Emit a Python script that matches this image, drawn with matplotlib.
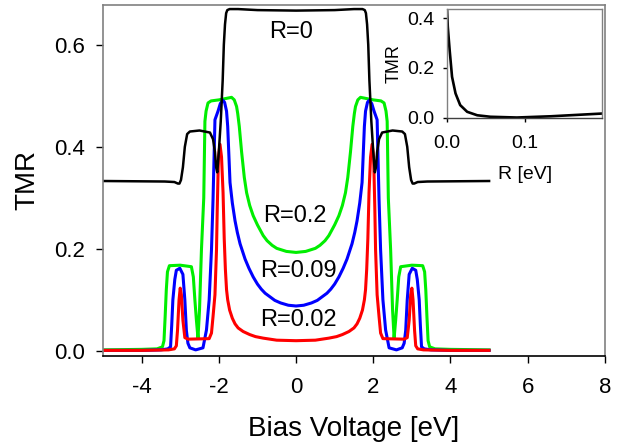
import numpy as np
import matplotlib
matplotlib.use("Agg")
import matplotlib.pyplot as plt

plt.rcParams['font.family'] = ['Liberation Sans', 'DejaVu Sans']
plt.rcParams['axes.unicode_minus'] = False

# curves are symmetric in bias, values read for V >= 0
v_r0 = [0.0, 1.0, 1.5, 1.72, 1.78, 1.81, 1.84, 1.87, 1.9, 1.95, 2.0, 2.04, 2.07, 2.1, 2.15, 2.23,
        2.5, 2.75, 2.82, 2.88, 2.93, 2.98, 3.02, 3.06, 3.15, 3.4, 5.0]
tmr_r0 = [0.667, 0.668, 0.670, 0.670, 0.668, 0.662, 0.64, 0.60, 0.53, 0.45, 0.39, 0.35, 0.36, 0.39, 0.415, 0.428,
          0.432, 0.43, 0.425, 0.40, 0.36, 0.335, 0.328, 0.328, 0.331, 0.332, 0.333]

v_r02 = [0.0, 0.25, 0.5, 0.62, 0.75, 0.85, 1.0, 1.11, 1.2, 1.28, 1.34, 1.41, 1.47, 1.51, 1.54, 1.6, 1.67, 1.8,
         2.0, 2.2, 2.28, 2.33, 2.36, 2.39, 2.45, 2.5, 2.54, 2.58, 2.62, 2.66, 2.71, 3.0, 3.28,
         3.33, 3.36, 3.39, 3.42, 3.46, 3.6, 4.0, 5.0]
tmr_r02 = [0.193, 0.195, 0.201, 0.207, 0.216, 0.226, 0.247, 0.265, 0.285, 0.31, 0.34, 0.39, 0.44, 0.465, 0.479, 0.492, 0.497, 0.495,
           0.492, 0.49, 0.486, 0.47, 0.45, 0.30, 0.198, 0.08, 0.025, 0.06, 0.10, 0.145, 0.165, 0.168, 0.167,
           0.155, 0.12, 0.067, 0.02, 0.008, 0.004, 0.003, 0.002]

v_r009 = [0.0, 0.2, 0.4, 0.55, 0.675, 0.8, 0.9, 1.0, 1.11, 1.22, 1.32, 1.45, 1.52, 1.58, 1.65, 1.71, 1.74, 1.77,
          1.8, 1.85, 1.89, 1.96, 2.02, 2.1, 2.15, 2.19, 2.25, 2.32, 2.41, 2.6, 2.75, 2.8, 2.84, 2.88, 2.93, 3.01,
          3.1, 3.14, 3.19, 3.22, 3.25, 3.32, 3.5, 4.0, 5.0]
tmr_r009 = [0.088, 0.0895, 0.094, 0.099, 0.106, 0.113, 0.121, 0.131, 0.145, 0.162, 0.18, 0.21, 0.232, 0.255, 0.29, 0.33, 0.385, 0.44,
            0.47, 0.487, 0.491, 0.485, 0.47, 0.453, 0.296, 0.198, 0.10, 0.041, 0.006, 0.002, 0.006, 0.015, 0.04, 0.1, 0.15, 0.162,
            0.158, 0.14, 0.1, 0.05, 0.008, 0.004, 0.002, 0.001, 0.001]

v_r002 = [0.0, 0.5, 0.85, 1.05, 1.2, 1.37, 1.5, 1.58, 1.65, 1.72, 1.77, 1.8, 1.83, 1.86, 1.89, 1.93, 1.97, 2.01, 2.04,
          2.06, 2.1, 2.15, 2.19, 2.25, 2.8, 2.88, 2.93, 2.97, 3.0, 3.03, 3.07, 3.1, 3.15, 3.3, 4.0, 5.0]
tmr_r002 = [0.020, 0.021, 0.025, 0.028, 0.032, 0.038, 0.045, 0.053, 0.064, 0.08, 0.10, 0.12, 0.16, 0.22, 0.31, 0.38, 0.405, 0.38, 0.28,
            0.198, 0.11, 0.067, 0.035, 0.024, 0.023, 0.026, 0.06, 0.11, 0.123, 0.1, 0.04, 0.01, 0.004, 0.002, 0.001, 0.001]

# inset: TMR at zero bias vs R
r_inset = [0.0, 0.001, 0.0034, 0.0065, 0.011, 0.017, 0.026, 0.039, 0.056, 0.09, 0.134, 0.2]
tmr_inset = [0.44, 0.366, 0.272, 0.164, 0.097, 0.05, 0.023, 0.009, 0.003, 0.0, 0.005, 0.016]

labels = ["R=0", "R=0.2", "R=0.09", "R=0.02"]


def mirror(v, t):
    v = np.asarray(v)
    t = np.asarray(t)
    return np.concatenate([-v[::-1], v[1:]]), np.concatenate([t[::-1], t[1:]])


fig = plt.figure(figsize=(6.23, 4.46), dpi=100)
ax = fig.add_axes([0.1653, 0.2018, 0.8057, 0.787])

for v, t, col, lw in [(v_r02, tmr_r02, "#00ee00", 2.2), (v_r009, tmr_r009, "#0000ff", 2.2),
                      (v_r002, tmr_r002, "#ff0000", 2.2), (v_r0, tmr_r0, "black", 1.8)]:
    x, y = mirror(v, t)
    ax.plot(x, y, color=col, lw=lw, solid_joinstyle="round")

ax.text(-0.14, 0.626, labels[0], fontsize=17, ha="center", va="center")
ax.text(-0.03, 0.265, labels[1], fontsize=17, ha="center", va="center")
ax.text(0.06, 0.156, labels[2], fontsize=17, ha="center", va="center")
ax.text(0.06, 0.061, labels[3], fontsize=17, ha="center", va="center")

ax.set_xlim(-5, 8)
ax.set_ylim(-0.01, 0.678)
ax.set_xticks([-4, -2, 0, 2, 4, 6, 8])
ax.set_yticks([0.0, 0.2, 0.4, 0.6])
ax.set_yticklabels(["0.0", "0.2", "0.4", "0.6"])
ax.tick_params(direction="out", length=5, width=1, labelsize=16)
ax.tick_params(axis="x", pad=10)
ax.tick_params(axis="y", pad=8)
ax.set_xlabel("Bias Voltage [eV]", fontsize=20, labelpad=13)
ax.set_ylabel("TMR", fontsize=20, labelpad=10)
for s in ["top", "right", "left"]:
    ax.spines[s].set_color("#808080")
ax.spines["bottom"].set_color("black")
for s in ax.spines.values():
    s.set_linewidth(1.2)

ins = fig.add_axes([0.7175, 0.7354, 0.249, 0.2444])
ins.plot(r_inset, tmr_inset, color="black", lw=1.9)
ins.set_xlim(0, 0.2)
ins.set_ylim(-0.002, 0.437)
ins.set_xticks([0.0, 0.1])
ins.set_xticklabels(["0.0", "0.1"])
ins.set_yticks([0.0, 0.2, 0.4])
ins.set_yticklabels(["0.0", "0.2", "0.4"])
ins.tick_params(direction="out", length=3, width=1, labelsize=14)
ins.tick_params(axis="x", pad=9)
ins.tick_params(axis="y", pad=6)
ins.set_xlabel("R [eV]", fontsize=14, labelpad=10)
ins.set_ylabel("TMR", fontsize=13, labelpad=3)
for s in ins.spines.values():
    s.set_color("#808080")
    s.set_linewidth(1.0)
ins.spines["bottom"].set_color("#404040")

fig.savefig("out.png", dpi=100)
